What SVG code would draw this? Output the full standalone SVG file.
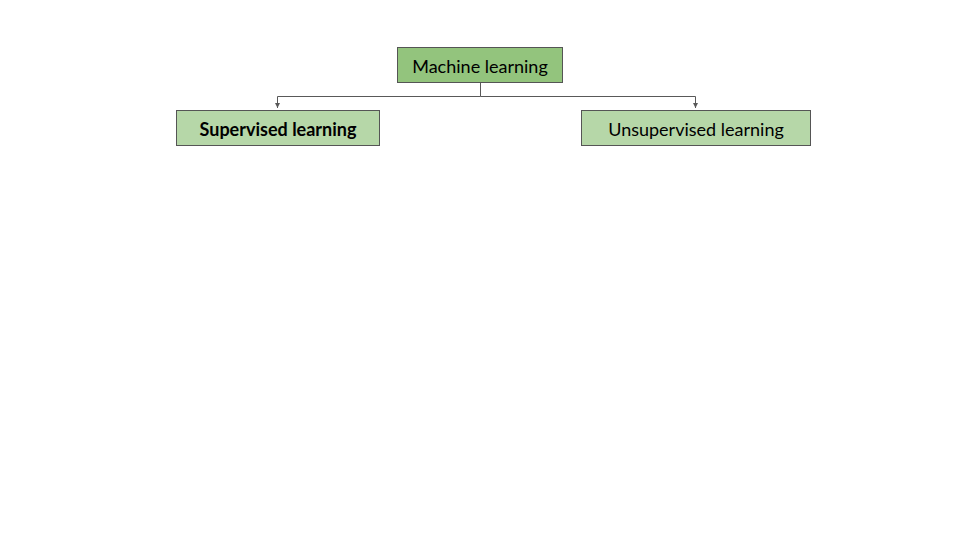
<svg xmlns="http://www.w3.org/2000/svg" width="960" height="540" viewBox="0 0 960 540">
<style>
.box{stroke:#555;stroke-width:1}
.t{font-family:Lato,"Liberation Sans",sans-serif;font-size:18px;fill:#000;text-anchor:middle;dominant-baseline:central}
.c{fill:none;stroke:#595959;stroke-width:1}
</style>
<defs><marker id="a" markerWidth="6" markerHeight="6" refX="5" refY="3" orient="auto" markerUnits="userSpaceOnUse"><path d="M0,0.5 L5,3 L0,5.5z" fill="#595959"/></marker></defs>
<rect width="960" height="540" fill="#fff"/>
<g id="connectors">
<path class="c" d="M480.5,83 V96.5 H277.5 V108" marker-end="url(#a)"/>
<path class="c" d="M480.5,96.5 H695.5 V108" marker-end="url(#a)"/>
</g>
<g id="ml"><rect class="box" x="397.5" y="47.5" width="165" height="35" fill="#93c47d"/><text class="t" x="480" y="66">Machine learning</text></g>
<g id="sl"><rect class="box" x="176.5" y="110.5" width="203" height="35" fill="#b6d7a8"/><text class="t" x="278" y="129" font-weight="bold">Supervised learning</text></g>
<g id="ul"><rect class="box" x="581.5" y="110.5" width="229" height="35" fill="#b6d7a8"/><text class="t" x="696" y="129">Unsupervised learning</text></g>
</svg>
